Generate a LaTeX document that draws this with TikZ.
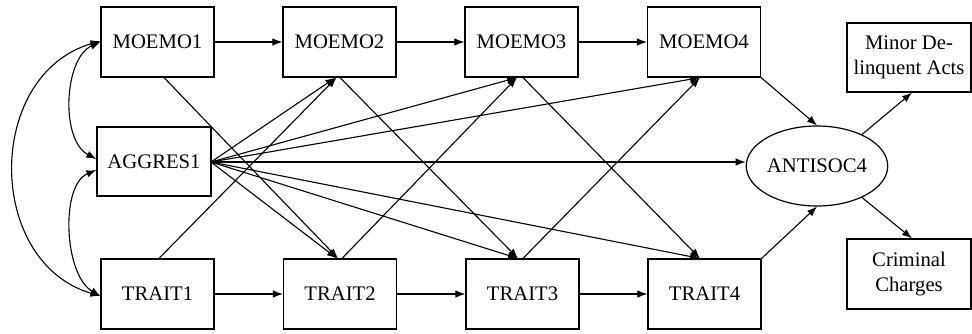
\documentclass[tikz,border=0pt]{standalone}
\usepackage{fontspec}
\setmainfont{Liberation Serif}
\usetikzlibrary{arrows.meta,shapes.geometric}
\begin{document}
\begin{tikzpicture}[x=1pt,y=-1pt,
  box/.style={draw,line width=1.2pt,minimum width=113pt,minimum height=70pt,inner sep=0pt,align=center,
    font=\fontsize{20.7}{25}\selectfont},
  oval/.style={draw,ellipse,line width=1.2pt,minimum width=140pt,minimum height=80pt,inner sep=0pt,
    font=\fontsize{20.7}{25}\selectfont},
  arr/.style={line width=1.1pt,-{Latex[length=10pt,width=7.5pt]}},
  darr/.style={line width=1.1pt,{Latex[length=10pt,width=7.5pt]}-{Latex[length=10pt,width=7.5pt]}},
  ln/.style={line width=1.1pt}]
\useasboundingbox (0,0) rectangle (972,333);
\fill[white] (0,0) rectangle (972,333);
% nodes
\node[box] (M1) at (157.5,42) {MOEMO1};
\node[box] (M2) at (339.5,42) {MOEMO2};
\node[box] (M3) at (521.5,42) {MOEMO3};
\node[box] (M4) at (704,42) {MOEMO4};
\node[box,minimum width=114pt,minimum height=69pt] (A1) at (154,161.5) {AGGRES1};
\node[box] (T1) at (157.5,294) {TRAIT1};
\node[box] (T2) at (340,294) {TRAIT2};
\node[box] (T3) at (522.5,294) {TRAIT3};
\node[box] (T4) at (704.5,294) {TRAIT4};
\node[oval] (E) at (817,166) {ANTISOC4};
\node[box,minimum width=124pt,minimum height=69pt] (MD) at (909,57.5) {Minor De-\\linquent Acts};
\node[box,minimum width=124pt] (CC) at (909,274) {Criminal\\Charges};
% horizontal paths
\draw[arr] (M1) -- (M2);
\draw[arr] (M2) -- (M3);
\draw[arr] (M3) -- (M4);
\draw[arr] (T1) -- (T2);
\draw[arr] (T2) -- (T3);
\draw[arr] (T3) -- (T4);
% cross-lagged
\draw[arr] ([xshift=6.5pt]M1.south) -- ([xshift=-2pt]T2.north);
\draw[arr] ([xshift=1.5pt]T1.north) -- ([xshift=-3pt]M2.south);
\draw[arr] ([xshift=0.5pt]M2.south) -- ([xshift=-4.5pt]T3.north);
\draw[arr] ([xshift=2pt]T2.north) -- ([xshift=-4.5pt]M3.south);
\draw[arr] ([xshift=1.5pt]M3.south) -- ([xshift=-4.5pt]T4.north);
\draw[arr] ([xshift=0.5pt]T3.north) -- ([xshift=-4pt]M4.south);
% aggression paths
\coordinate (Ar) at (211,162);
\draw[arr] (Ar) -- ([xshift=-4pt]M2.south);
\draw[arr] (Ar) -- ([xshift=-4.5pt]M3.south);
\draw[arr] (Ar) -- ([xshift=-4pt]M4.south);
\draw[arr] (Ar) -- (E.west |- Ar);
\draw[arr] (Ar) -- ([xshift=-3pt]T2.north);
\draw[arr] (Ar) -- ([xshift=-4.5pt]T3.north);
\draw[arr] (Ar) -- ([xshift=-4.5pt]T4.north);
% to latent
\draw[arr] (M4.south east) -- (E.north);
\draw[arr] (T4.north east) -- (E.south);
\draw[arr] (E.35) -- ([xshift=3pt]MD.south);
\draw[arr] (E.-35) -- ([xshift=3pt]CC.north);
% correlations
\draw[darr] (M1.west) .. controls (64,58) and (60,140) .. ([yshift=2.5pt]A1.west);
\draw[darr] ([yshift=-8.5pt]A1.west) .. controls (60,185) and (64,275) .. ([yshift=-2pt]T1.west);
\draw[darr] ([yshift=1pt]M1.west) .. controls (-15,75) and (-15,262) .. ([yshift=-2pt]T1.west);
\end{tikzpicture}
\end{document}
